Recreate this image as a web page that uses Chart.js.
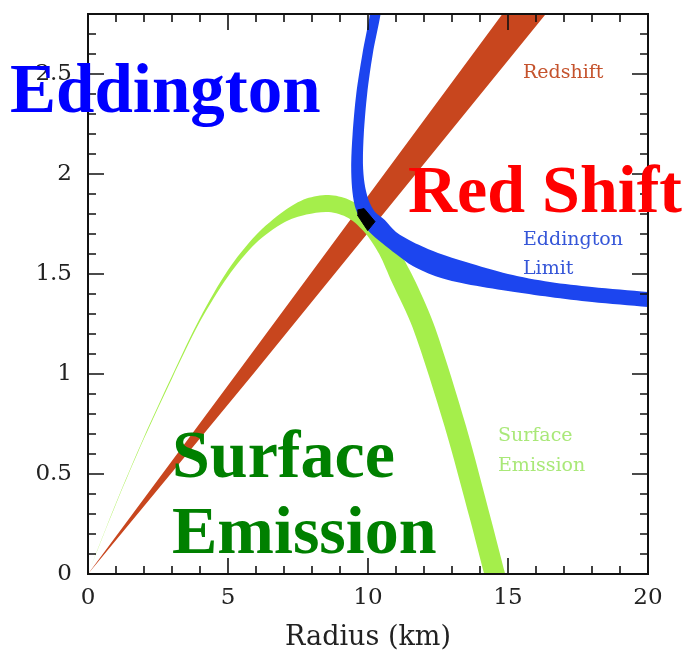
<!DOCTYPE html>
<html><head><meta charset="utf-8">
<style>html,body{margin:0;padding:0;background:#fff;}#wrap{width:690px;height:651px;}</style>
<script src="https://cdn.jsdelivr.net/npm/chart.js@4.4.1/dist/chart.umd.min.js"></script>
</head><body><div id="wrap"><canvas id="c" width="690" height="651"></canvas></div>
<script>
// ---- axis ticks ----
const xTicks = [0, 5, 10, 15, 20];
const yTicks = [0, 0.5, 1, 1.5, 2, 2.5];
const xRange = [0, 20];
const yRange = [0, 2.8];

// ---- band edges [radius km, mass] ----
const redshiftUpper = [[0,0],[5.3,1.0],[14.8,2.8]];
const redshiftLower = [[0,0],[5.9,1.0],[16.35,2.8]];

const surfaceOuter = [[0,0],[1,0.355],[2,0.685],[3,0.99],[4,1.28],[5,1.52],[6,1.695],[7,1.815],[7.8,1.877],[8.6,1.895],[9.3,1.873],[9.9,1.82],[10.5,1.736],[11.1,1.616],[11.7,1.46],[12.4,1.23],[13.5,0.74],[14.4,0.27],[14.9,0],[15.1,-0.1]];
const surfaceInner = [[0,0],[1,0.35],[2,0.677],[3,0.978],[4,1.262],[5,1.488],[6,1.655],[7,1.757],[7.8,1.797],[8.6,1.81],[9.3,1.78],[9.9,1.705],[10.4,1.6],[10.85,1.46],[11.6,1.23],[12.73,0.74],[13.65,0.27],[14.15,0],[14.35,-0.1]];

const eddingtonOuter = [[10.2,2.95],[10.07,2.8],[9.8,2.6],[9.58,2.4],[9.45,2.2],[9.4,2.05],[9.43,1.93],[9.53,1.84],[9.72,1.775],[10.05,1.71],[10.5,1.655],[11.0,1.6],[11.6,1.54],[12.5,1.485],[13.5,1.45],[15,1.415],[16.5,1.385],[18,1.36],[20,1.335],[21,1.325]];
const eddingtonInner = [[10.6,2.95],[10.45,2.8],[10.17,2.6],[9.97,2.4],[9.85,2.2],[9.82,2.05],[9.88,1.95],[10.02,1.87],[10.25,1.81],[10.6,1.77],[11.0,1.71],[11.6,1.66],[12.5,1.605],[13.5,1.56],[15,1.5],[16.5,1.46],[18,1.435],[20,1.41],[21,1.4]];

const overlapOutline = [[9.62,1.82],[9.86,1.827],[10.25,1.762],[9.99,1.717],[9.62,1.795]];

function poly(a, b) {
  const pts = b ? a.concat(b.slice().reverse()) : a;
  return pts.map(p => ({x: p[0], y: p[1]}));
}

const RED = '#c8461e', GREEN = '#a5ee4b', BLUE = '#1c45ef';

function band(label, data, color, tension) {
  return {label, data, fill: 'shape', backgroundColor: color, borderColor: color,
          borderWidth: 0, pointRadius: 0, tension, spanGaps: true};
}

const framePlugin = {
  id: 'frame',
  afterDraw(chart) {
    const {ctx, chartArea: a, scales: {x, y}} = chart;
    ctx.save();
    ctx.strokeStyle = '#111';
    ctx.lineWidth = 1.6;
    ctx.beginPath();
    for (let i = 0; i <= 20; i++) {
      const v = xRange[0] + i;
      const px = x.getPixelForValue(v);
      const len = (v % 5 === 0) ? 16 : 8;
      ctx.moveTo(px, a.bottom); ctx.lineTo(px, a.bottom - len);
      ctx.moveTo(px, a.top); ctx.lineTo(px, a.top + len);
    }
    for (let i = 0; i <= 28; i++) {
      const v = i / 10;
      const py = y.getPixelForValue(v);
      const len = (i % 5 === 0) ? 16 : 8;
      ctx.moveTo(a.left, py); ctx.lineTo(a.left + len, py);
      ctx.moveTo(a.right, py); ctx.lineTo(a.right - len, py);
    }
    ctx.stroke();
    ctx.lineWidth = 2;
    ctx.strokeRect(a.left, a.top, a.right - a.left, a.bottom - a.top);

    // small in-plot labels
    ctx.font = '19px "DejaVu Serif"';
    ctx.textBaseline = 'alphabetic';
    ctx.textAlign = 'left';
    ctx.fillStyle = '#c5532d';
    ctx.fillText('Redshift', 523, 78);
    ctx.fillStyle = '#3556d8';
    ctx.fillText('Eddington', 523, 245);
    ctx.fillText('Limit', 523, 274);
    ctx.fillStyle = '#a9e878';
    ctx.fillText('Surface', 498, 441);
    ctx.fillText('Emission', 498, 471);

    // big overlay labels
    ctx.font = 'bold 69px "Liberation Serif"';
    ctx.fillStyle = '#0000ff';
    ctx.fillText('Eddington', 10, 112);
    ctx.font = 'bold 68px "Liberation Serif"';
    ctx.fillStyle = '#ff0000';
    ctx.fillText('Red Shift', 408, 212);
    ctx.fillStyle = '#008000';
    ctx.fillText('Surface', 172, 477);
    ctx.fillText('Emission', 172, 553);
    ctx.restore();
  }
};

const tickFont = {family: 'DejaVu Serif', size: 23};

new Chart(document.getElementById('c'), {
  type: 'line',
  data: {datasets: [
    {label: 'Overlap', data: poly(overlapOutline), fill: 'shape', backgroundColor: '#000', borderColor: '#000', borderWidth: 1, pointRadius: 0},
    band('Eddington Limit', poly(eddingtonOuter, eddingtonInner), BLUE, 0.3),
    band('Surface Emission', poly(surfaceOuter, surfaceInner), GREEN, 0.3),
    band('Redshift', poly(redshiftUpper, redshiftLower), RED, 0)
  ]},
  options: {
    responsive: false,
    animation: false,
    events: [],
    elements: {line: {capBezierPoints: false}},
    layout: {padding: {left: 0, right: 42, top: 14, bottom: 0}},
    plugins: {legend: {display: false}, tooltip: {enabled: false}},
    scales: {
      x: {
        type: 'linear', min: xRange[0], max: xRange[1],
        afterBuildTicks: s => { s.ticks = xTicks.map(v => ({value: v})); },
        ticks: {font: tickFont, color: '#222', padding: 10, maxRotation: 0, autoSkip: false,
                callback: v => String(v)},
        grid: {display: false, drawTicks: false},
        border: {display: false},
        title: {display: true, text: 'Radius (km)', color: '#222',
                font: {family: 'DejaVu Serif', size: 27, lineHeight: 1}, padding: {top: 0, bottom: 0}},
        afterFit: s => { s.height = 77; s.paddingLeft = 0; s.paddingRight = 0; }
      },
      y: {
        type: 'linear', min: yRange[0], max: yRange[1],
        afterBuildTicks: s => { s.ticks = yTicks.map(v => ({value: v})); },
        ticks: {font: tickFont, color: '#222', padding: 16, autoSkip: false,
                callback: v => String(v)},
        grid: {display: false, drawTicks: false},
        border: {display: false},
        afterFit: s => { s.width = 88; s.paddingTop = 0; s.paddingBottom = 0; }
      }
    }
  },
  plugins: [framePlugin]
});
</script></body></html>
